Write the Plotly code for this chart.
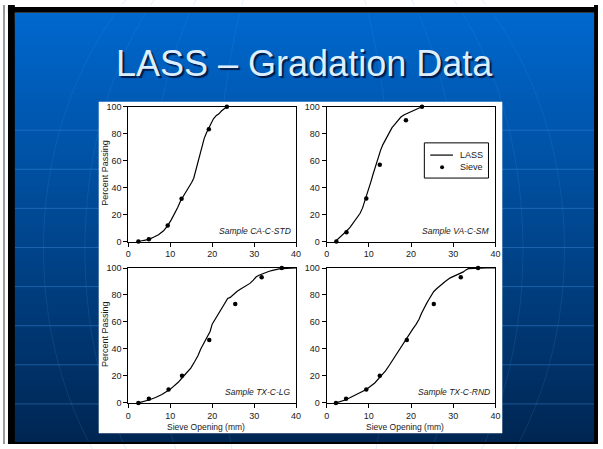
import plotly.graph_objects as go

W, H = 603, 449

# ---- data -----------------------------------------------------------------
x_ticks = [0, 10, 20, 30, 40]
y_ticks = [0, 20, 40, 60, 80, 100]

samples = ["Sample CA-C-STD", "Sample VA-C-SM", "Sample TX-C-LG", "Sample TX-C-RND"]

# CA-C-STD
ca_lass_x = [2.4, 3.5, 4.9, 6.0, 7.2, 8.4, 9.4, 10.3, 11.1, 11.8, 12.5, 13.2, 13.8, 14.5,
             15.1, 15.6, 16.0, 16.5, 17.0, 17.6, 18.1, 18.7, 19.3, 19.8, 20.3, 21.0, 21.6,
             22.2, 22.8, 23.5]
ca_lass_y = [0, 0.8, 1.7, 3.2, 5.1, 8.0, 11.9, 16.5, 20.8, 25.5, 30.5, 34.0, 36.6, 40.0,
             43.8, 47.0, 51.5, 58.4, 64.5, 71.0, 76.5, 81.0, 85.0, 88.5, 91.0, 93.5, 94.7,
             96.8, 98.5, 100]
ca_sieve_x = [2.4, 4.9, 9.4, 12.7, 19.2, 23.5]
ca_sieve_y = [0, 1.7, 11.9, 31.7, 83.3, 100]

# VA-C-SM
va_lass_x = [2.0, 2.8, 3.7, 4.6, 5.5, 6.3, 7.1, 7.9, 8.5, 9.0, 9.5, 10.0, 10.5, 11.0, 11.6,
             12.2, 12.8, 13.3, 14.1, 14.9, 15.5, 16.1, 16.8, 17.6, 18.4, 19.2, 20.0, 20.7,
             21.6, 22.6]
va_lass_y = [0, 2.2, 4.6, 7.5, 10.3, 13.6, 17.0, 20.8, 24.8, 29.3, 34.0, 39.0, 44.5, 49.9,
             56.5, 63.2, 67.8, 71.7, 76.5, 81.4, 84.5, 86.7, 89.5, 92.3, 94.0, 95.2, 96.5,
             97.6, 98.8, 100]
va_sieve_x = [2.3, 4.7, 9.4, 12.6, 18.8, 22.6]
va_sieve_y = [0, 7.0, 32.0, 57.0, 90.0, 100]

# TX-C-LG
lg_lass_x = [2.4, 3.6, 4.9, 6.5, 8.0, 9.9, 11.9, 13.8, 14.9, 15.8, 16.6, 17.3, 18.1, 18.9,
             19.5, 20.0, 20.8, 21.6, 22.3, 23.1, 23.7, 24.3, 25.1, 25.9, 26.6, 27.4, 28.2,
             29.0, 29.8, 30.5, 31.3, 32.1, 32.9, 33.6, 34.4, 35.2, 36.0, 36.7, 38.0, 40.0]
lg_lass_y = [0, 1.0, 2.2, 4.0, 6.3, 9.9, 15.3, 22.0, 25.8, 30.5, 35.0, 40.2, 44.5, 48.7,
             53.0, 58.4, 62.5, 66.8, 71.0, 75.2, 77.5, 78.2, 80.5, 82.6, 84.0, 85.5, 87.0,
             88.6, 91.0, 93.5, 94.8, 95.9, 96.8, 97.6, 98.3, 99.0, 99.3, 99.5, 99.8, 100]
lg_sieve_x = [2.4, 4.9, 9.6, 12.8, 19.3, 25.5, 31.8, 36.6]
lg_sieve_y = [0, 3.1, 9.9, 20.1, 46.7, 73.4, 93.2, 100]

# TX-C-RND
rnd_lass_x = [2.2, 3.3, 4.4, 5.5, 6.7, 8.0, 9.4, 10.4, 11.4, 12.9, 14.0, 14.9, 15.9, 16.8,
              17.8, 18.8, 19.6, 20.4, 21.2, 21.9, 22.5, 23.1, 23.7, 24.2, 24.8, 25.4, 26.2,
              27.0, 28.1, 29.3, 30.1, 30.9, 31.7, 32.4, 33.0, 33.6, 34.8, 35.9, 38.0, 40.0]
rnd_lass_y = [0, 1.0, 2.2, 3.8, 5.6, 7.6, 9.9, 12.3, 14.8, 20.1, 24.0, 28.1, 33.0, 37.8,
              42.8, 47.5, 51.2, 54.7, 58.2, 62.0, 66.5, 70.5, 73.8, 76.5, 79.5, 82.6, 85.0,
              87.4, 90.0, 92.7, 93.7, 94.7, 96.0, 97.1, 98.6, 99.5, 99.8, 100, 100, 100]
rnd_sieve_x = [2.2, 4.6, 9.4, 12.6, 19.0, 25.4, 31.8, 35.9]
rnd_sieve_y = [0, 3.1, 9.9, 20.1, 46.7, 73.4, 93.2, 100]

lass_x = [ca_lass_x, va_lass_x, lg_lass_x, rnd_lass_x]
lass_y = [ca_lass_y, va_lass_y, lg_lass_y, rnd_lass_y]
sieve_x = [ca_sieve_x, va_sieve_x, lg_sieve_x, rnd_sieve_x]
sieve_y = [ca_sieve_y, va_sieve_y, lg_sieve_y, rnd_sieve_y]

# ---- helpers ----------------------------------------------------------------
def px(x):
    return x / W


def py(y):
    return 1 - y / H


CHART_FONT = "Liberation Sans, Arial, sans-serif"
TITLE_FONT = "Liberation Sans, Arial, sans-serif"
INK = "#1a1a1a"

# plot-area boxes in pixels: (left, right, top, bottom)
boxes = [(127, 297, 104, 242), (328, 499, 104, 242),
         (127, 297, 269, 407), (328, 499, 269, 407)]

fig = go.Figure()
shapes = []
annotations = []

# ---- slide background -------------------------------------------------------
# vertical blue gradient: each band runs to the bottom so no seams show
top_rgb = (0, 104, 206)
bot_rgb = (0, 38, 82)
y0_bg, y1_bg = 8, 447
step = 2
for y in range(y0_bg, y1_bg, step):
    t = (y - y0_bg) / (y1_bg - y0_bg)
    r = round(top_rgb[0] + (bot_rgb[0] - top_rgb[0]) * t)
    g = round(top_rgb[1] + (bot_rgb[1] - top_rgb[1]) * t)
    b = round(top_rgb[2] + (bot_rgb[2] - top_rgb[2]) * t)
    shapes.append(dict(type="rect", xref="paper", yref="paper", layer="below",
                       x0=px(12), x1=px(599), y0=py(y1_bg), y1=py(y),
                       fillcolor=f"rgb({r},{g},{b})", line=dict(width=0)))

# globe meridians
for a in [264, 222, 160, 90]:
    shapes.append(dict(type="circle", xref="paper", yref="paper", layer="below",
                       x0=px(305 - a), x1=px(305 + a), y0=py(600), y1=py(-100),
                       line=dict(color="rgba(70,150,235,0.16)", width=1)))
# globe parallels
for y in range(128, 410, 40):
    shapes.append(dict(type="line", xref="paper", yref="paper", layer="below",
                       x0=px(12), x1=px(599), y0=py(y), y1=py(y),
                       line=dict(color="rgba(70,150,235,0.40)", width=1)))

# slide frame
frame = [(0, 603, 0, 2, "white"), (0, 603, 2, 8, "black"), (0, 603, 447, 449, "black"),
         (5, 12, 0, 449, "black"), (599, 603, 0, 449, "black"),
         (0, 2, 0, 449, "#9a9a9a"), (2, 5, 0, 449, "white")]
for x0, x1, ya, yb, c in frame:
    shapes.append(dict(type="rect", xref="paper", yref="paper", layer="below",
                       x0=px(x0), x1=px(x1), y0=py(yb), y1=py(ya),
                       fillcolor=c, line=dict(width=0)))

# white chart panel
shapes.append(dict(type="rect", xref="paper", yref="paper", layer="below",
                   x0=px(97), x1=px(506), y0=py(438), y1=py(99),
                   fillcolor="white", line=dict(width=0)))

# ---- slide title ------------------------------------------------------------
annotations.append(dict(text="LASS – Gradation Data", xref="paper", yref="paper",
                        x=px(305.5), y=py(60), xanchor="center", yanchor="middle",
                        showarrow=False,
                        font=dict(family=TITLE_FONT, size=36, color="#DDEEFC",
                                  shadow="2px 2px 1px rgba(0,20,60,0.9)")))

# ---- subplots ---------------------------------------------------------------
for i, (l, r, t, b) in enumerate(boxes):
    n = "" if i == 0 else str(i + 1)
    xa, ya = "x" + n, "y" + n
    axis_common = dict(showline=True, linecolor="black", linewidth=1, mirror=True,
                       ticks="outside", ticklen=4, tickwidth=1, tickcolor="black",
                       showgrid=False, zeroline=False,
                       tickfont=dict(family=CHART_FONT, size=9, color=INK))
    fig.layout["xaxis" + n] = dict(axis_common, domain=[px(l), px(r)], range=[0, 40],
                                   tickvals=x_ticks, anchor=ya)
    fig.layout["yaxis" + n] = dict(axis_common, domain=[py(b), py(t)], range=[0, 100],
                                   tickvals=y_ticks, anchor=xa)

    fig.add_trace(go.Scatter(x=lass_x[i], y=lass_y[i], mode="lines", name="LASS",
                             line=dict(color="black", width=1.2), xaxis=xa, yaxis=ya,
                             showlegend=False, cliponaxis=False))
    fig.add_trace(go.Scatter(x=sieve_x[i], y=sieve_y[i], mode="markers", name="Sieve",
                             marker=dict(color="black", size=4.5), xaxis=xa, yaxis=ya,
                             showlegend=False, cliponaxis=False))

    annotations.append(dict(text=f"<i>{samples[i]}</i>", xref=xa, yref=ya, x=39.2, y=8,
                            xanchor="right", yanchor="middle", showarrow=False,
                            font=dict(family=CHART_FONT, size=8.5, color=INK)))

    if i in (0, 2):
        annotations.append(dict(text="Percent Passing", xref="paper", yref="paper",
                                x=px(104), y=py((t + b) / 2 - 1), textangle=-90,
                                xanchor="center", yanchor="middle", showarrow=False,
                                font=dict(family=CHART_FONT, size=9, color=INK)))
    if i in (2, 3):
        annotations.append(dict(text="Sieve Opening (mm)", xref="paper", yref="paper",
                                x=px((l + r) / 2 - 6), y=py(432),
                                xanchor="center", yanchor="middle", showarrow=False,
                                font=dict(family=CHART_FONT, size=8.5, color=INK)))

# ---- legend box (top-right chart) ---------------------------------------------
lg_l, lg_r, lg_t, lg_b = 427, 492, 141, 177
shapes.append(dict(type="rect", xref="paper", yref="paper",
                   x0=px(lg_l), x1=px(lg_r), y0=py(lg_b), y1=py(lg_t),
                   fillcolor="white", line=dict(color="black", width=1)))
shapes.append(dict(type="line", xref="paper", yref="paper",
                   x0=px(433), x1=px(456), y0=py(153.5), y1=py(153.5),
                   line=dict(color="black", width=1.2)))
shapes.append(dict(type="circle", xref="paper", yref="paper",
                   x0=px(443), x1=px(447), y0=py(168), y1=py(164),
                   fillcolor="black", line=dict(color="black", width=0)))
for label, yy in [("LASS", 153.5), ("Sieve", 166)]:
    annotations.append(dict(text=label, xref="paper", yref="paper", x=px(461), y=py(yy),
                            xanchor="left", yanchor="middle", showarrow=False,
                            font=dict(family=CHART_FONT, size=9, color=INK)))

fig.update_layout(width=W, height=H, margin=dict(l=0, r=0, t=0, b=0),
                  paper_bgcolor="white", plot_bgcolor="white", showlegend=False,
                  shapes=shapes, annotations=annotations)

fig.write_html("out.html")
